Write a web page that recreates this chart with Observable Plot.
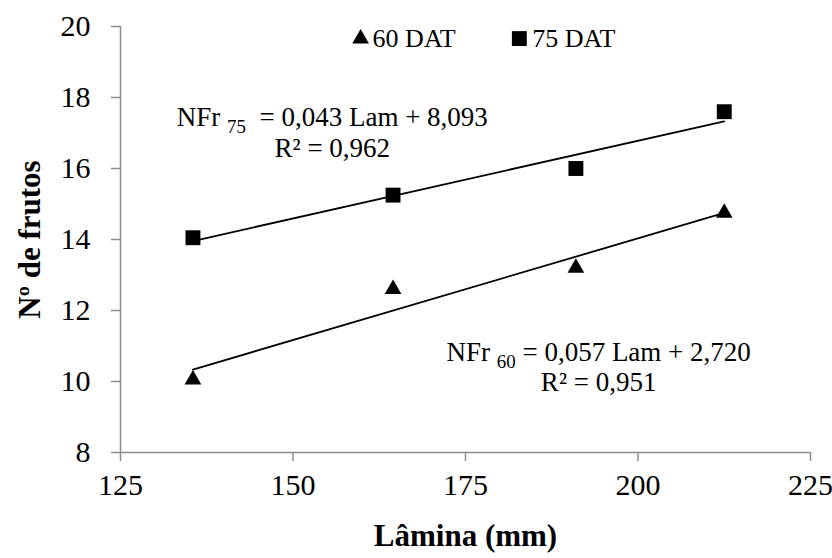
<!DOCTYPE html>
<html>
<head>
<meta charset="utf-8">
<script src="https://cdn.jsdelivr.net/npm/d3@7"></script>
<script src="https://cdn.jsdelivr.net/npm/@observablehq/plot@0.6"></script>
<style>
  body { margin: 0; background: #fff; }
  #chart { width: 832px; height: 558px; }
</style>
</head>
<body>
<div id="chart"></div>
<script>
// ---- data ----
const lamina = [135.5, 164.5, 191, 212.5];          // x: Lâmina (mm)
const frutos60 = [10.05, 12.6, 13.2, 14.75];         // 60 DAT
const frutos75 = [14.05, 15.25, 16.0, 17.6];         // 75 DAT
const seriesNames = ["60 DAT", "75 DAT"];
const xTicks = [125, 150, 175, 200, 225];
const yTicks = [8, 10, 12, 14, 16, 18, 20];
const xTitle = "Lâmina (mm)";
const yTitle = "Nº de frutos";
const eq75 = ["NFr 75  = 0,043 Lam + 8,093", "R² = 0,962"];
const eq60 = ["NFr 60 = 0,057 Lam + 2,720", "R² = 0,951"];

// tables built from the arrays
const d60 = lamina.map((x, i) => ({x, y: frutos60[i]}));
const d75 = lamina.map((x, i) => ({x, y: frutos75[i]}));

// annotation anchors (data space)
const legendPos = [{x: 159.8, y: 19.66}, {x: 182.8, y: 19.66}];
const eqPos75 = {x: 155.7, y1: 17.44, y2: 16.57};
const eqPos60 = {x: 194.3, y1: 10.81, y2: 9.97};

const axisGray = "#8c8c8c";
const font = "Liberation Serif";

const plot = Plot.plot({
  width: 832,
  height: 558,
  marginLeft: 120,
  marginRight: 22,
  marginTop: 26,
  marginBottom: 106,
  style: {fontSize: "28px", background: "white", color: "black"},
  x: {domain: [125, 225], ticks: xTicks},
  y: {domain: [8, 20], ticks: yTicks},
  marks: [
    Plot.ruleX([125], {y1: 8, y2: 20, stroke: axisGray, strokeWidth: 1.5}),
    Plot.ruleY([8], {x1: 125, x2: 225, stroke: axisGray, strokeWidth: 1.5}),
    Plot.axisY({ticks: yTicks, tickSize: 9, tickPadding: 21, stroke: axisGray, strokeWidth: 1.5, fill: "black", fontSize: 30, label: null}),
    Plot.axisX({ticks: xTicks, tickSize: 9, tickPadding: 12, stroke: axisGray, strokeWidth: 1.5, fill: "black", fontSize: 30, label: null}),
    Plot.text([xTitle], {frameAnchor: "bottom", lineAnchor: "middle", textAnchor: "middle", dy: 84, text: d => d, fontSize: 31, fontWeight: "bold", fill: "black"}),
    Plot.text([yTitle], {frameAnchor: "left", lineAnchor: "middle", textAnchor: "middle", dx: -90, rotate: -90, text: d => d, fontSize: 31, fontWeight: "bold", fill: "black"}),
    Plot.linearRegressionY(d60, {x: "x", y: "y", stroke: "black", strokeWidth: 1.8, ci: 0}),
    Plot.linearRegressionY(d75, {x: "x", y: "y", stroke: "black", strokeWidth: 1.8, ci: 0}),
    Plot.dot(d60, {x: "x", y: "y", symbol: "triangle", r: 6.2, fill: "black", stroke: "none"}),
    Plot.dot(d75, {x: "x", y: "y", symbol: "square", r: 8.4, fill: "black", stroke: "none"}),
    // legend
    Plot.dot([legendPos[0]], {x: "x", y: "y", symbol: "triangle", r: 6.2, fill: "black"}),
    Plot.dot([legendPos[1]], {x: "x", y: "y", symbol: "square", r: 8.4, fill: "black"}),
    Plot.text([seriesNames[0]], {x: legendPos[0].x, y: legendPos[0].y, text: d => d, textAnchor: "start", dx: 12, fontSize: 26, fill: "black"}),
    Plot.text([seriesNames[1]], {x: legendPos[1].x, y: legendPos[1].y, text: d => d, textAnchor: "start", dx: 13, fontSize: 26, fill: "black"}),
    // equations
    Plot.text([eq75[0]], {x: eqPos75.x, y: eqPos75.y1, text: d => d, fontSize: 27, fill: "black"}),
    Plot.text([eq75[1]], {x: eqPos75.x, y: eqPos75.y2, text: d => d, fontSize: 27, fill: "black"}),
    Plot.text([eq60[0]], {x: eqPos60.x, y: eqPos60.y1, text: d => d, fontSize: 27, fill: "black"}),
    Plot.text([eq60[1]], {x: eqPos60.x, y: eqPos60.y2, text: d => d, fontSize: 27, fill: "black"})
  ]
});

// force the serif family everywhere
const svg = d3.select(plot);
svg.attr("font-family", font).style("font-family", font);
svg.selectAll("g").attr("font-family", null);
svg.selectAll("text").style("font-family", font).attr("font-family", font);

// subscripts in the equation labels
svg.selectAll("text").each(function() {
  const t = this.textContent;
  const m = /^NFr (\d+)(\s+)(.*)$/.exec(t);
  if (!m) return;
  const el = d3.select(this);
  el.text(null);
  el.append("tspan").text("NFr ");
  el.append("tspan").attr("font-size", "0.7em").attr("dy", "0.35em").text(m[1]);
  el.append("tspan").attr("dy", "-0.245em").text(m[2].replace(/\s/g, "\u00a0") + m[3]);
});

document.getElementById("chart").appendChild(plot);
</script>
</body>
</html>
